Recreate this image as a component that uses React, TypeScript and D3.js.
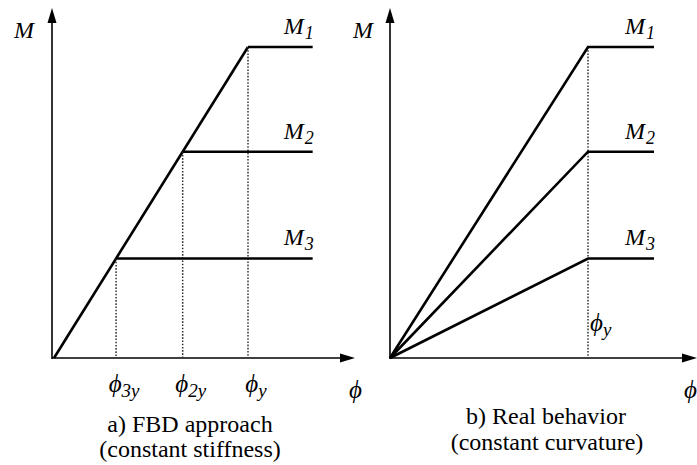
import React, { useEffect, useState } from "react";
import * as d3 from "d3";

// Moment levels (M1, M2, M3) and yield curvatures, in arbitrary units
const momentLabels = ["1", "2", "3"];
const momentValues = [3, 1.99, 0.96];
// FBD approach: constant stiffness -> yield curvature scales with moment
const fbdYieldCurvature = [3, 1.99, 0.96];
const fbdTickLabels = ["y", "2y", "3y"];
// Real behavior: constant yield curvature for every section
const realYieldCurvature = 3;
const plateauEnd = 4;

const W = 697;
const H = 465;
const originY = 358;

const yScale = d3.scaleLinear().domain([0, 3]).range([originY, 47]);
const xLeft = d3.scaleLinear().domain([0, 3]).range([54, 248]);
const xRight = d3.scaleLinear().domain([0, 3]).range([390, 588]);

const FONT = "Liberation Serif";
const CAPTION_FONT = "Times New Roman";

function Arrow({ x, y, dir }: { x: number; y: number; dir: "up" | "right" }) {
  const p =
    dir === "up"
      ? `M${x},${y} L${x - 4.5},${y + 15} L${x + 4.5},${y + 15} Z`
      : `M${x},${y} L${x - 15},${y - 4.5} L${x - 15},${y + 4.5} Z`;
  return <path d={p} fill="#000" />;
}

function MLabel({ x, y, sub }: { x: number; y: number; sub?: string }) {
  return (
    <text x={x} y={y} style={{ fontFamily: FONT, fontStyle: "italic", fontSize: 24 }}>
      M
      {sub && (
        <tspan style={{ fontSize: 18 }} dy={5} dx={1}>
          {sub}
        </tspan>
      )}
    </text>
  );
}

function PhiLabel({ x, y, sub, anchor = "start" }: { x: number; y: number; sub?: string; anchor?: string }) {
  return (
    <text x={x} y={y} textAnchor={anchor} style={{ fontFamily: FONT, fontStyle: "italic", fontSize: 25 }}>
      ϕ
      {sub && (
        <tspan style={{ fontSize: 19 }} dy={5}>
          {sub}
        </tspan>
      )}
    </text>
  );
}

function Caption({ x, y, text }: { x: number; y: number; text: string }) {
  return (
    <text x={x} y={y} textAnchor="middle" style={{ fontFamily: CAPTION_FONT, fontSize: 24 }}>
      {text}
    </text>
  );
}

export default function App() {
  // re-render once the serif faces are available
  const [, setReady] = useState(0);
  useEffect(() => {
    const fs = (document as any).fonts;
    if (fs && fs.load) {
      Promise.all([
        fs.load(`24px "${FONT}"`),
        fs.load(`italic 24px "${FONT}"`),
        fs.load(`24px "${CAPTION_FONT}"`),
      ])
        .then(() => setReady((n) => n + 1))
        .catch(() => {});
    }
  }, []);

  const line = d3
    .line<[number, number]>()
    .x((d) => d[0])
    .y((d) => d[1]);

  const x0L = xLeft(0);
  const x0R = xRight(0);

  return (
    <svg width={W} height={H} style={{ position: "absolute", left: 0, top: 0 }}>
      {/* Left panel: FBD approach */}
      <g>
        <line x1={x0L - 2} y1={originY} x2={352} y2={originY} stroke="#000" strokeWidth={1.6} />
        <Arrow x={355} y={originY} dir="right" />
        <line x1={x0L - 2} y1={originY + 1} x2={x0L - 2} y2={14} stroke="#000" strokeWidth={1.6} />
        <Arrow x={x0L - 2} y={8} dir="up" />
        <MLabel x={14} y={38} />
        {/* Elastic branch with constant stiffness */}
        <path
          d={line([
            [x0L, originY],
            [xLeft(fbdYieldCurvature[0]), yScale(momentValues[0])],
          ])!}
          stroke="#000"
          strokeWidth={2.6}
          fill="none"
        />
        {momentValues.map((m, i) => {
          const xb = xLeft(fbdYieldCurvature[i]);
          const yb = yScale(m);
          return (
            <g key={i}>
              <line x1={xb} y1={yb} x2={xb} y2={originY} stroke="#333" strokeWidth={1.5} strokeDasharray="1.6,1.6" />
              <path
                d={line([
                  [xb, yb],
                  [xLeft(plateauEnd), yb],
                ])!}
                stroke="#000"
                strokeWidth={2.6}
                fill="none"
              />
              <MLabel x={xLeft(plateauEnd) - 29} y={yb - 13} sub={momentLabels[i]} />
              <PhiLabel x={xb + 8} y={392} sub={fbdTickLabels[i]} anchor="middle" />
            </g>
          );
        })}
        <PhiLabel x={349} y={398} />
        <Caption x={190} y={432} text="a) FBD approach" />
        <Caption x={190} y={457} text="(constant stiffness)" />
      </g>

      {/* Right panel: real behavior */}
      <g>
        <line x1={x0R} y1={originY} x2={692} y2={originY} stroke="#000" strokeWidth={1.6} />
        <Arrow x={697} y={originY} dir="right" />
        <line x1={x0R} y1={originY + 1} x2={x0R} y2={14} stroke="#000" strokeWidth={1.6} />
        <Arrow x={x0R} y={8} dir="up" />
        <MLabel x={353} y={38} />
        <line
          x1={xRight(realYieldCurvature)}
          y1={yScale(momentValues[0])}
          x2={xRight(realYieldCurvature)}
          y2={originY}
          stroke="#333"
          strokeWidth={1.5}
          strokeDasharray="1.6,1.6"
        />
        {momentValues.map((m, i) => {
          const xb = xRight(realYieldCurvature);
          const yb = yScale(m);
          return (
            <g key={i}>
              <path
                d={line([
                  [x0R, originY],
                  [xb, yb],
                  [xRight(plateauEnd), yb],
                ])!}
                stroke="#000"
                strokeWidth={2.6}
                fill="none"
                strokeLinejoin="miter"
              />
              <MLabel x={xRight(plateauEnd) - 29} y={yb - 13} sub={momentLabels[i]} />
            </g>
          );
        })}
        <PhiLabel x={xRight(realYieldCurvature) + 2} y={331} sub="y" />
        <PhiLabel x={684} y={398} />
        <Caption x={546} y={424} text="b) Real behavior" />
        <Caption x={547} y={450} text="(constant curvature)" />
      </g>
    </svg>
  );
}
